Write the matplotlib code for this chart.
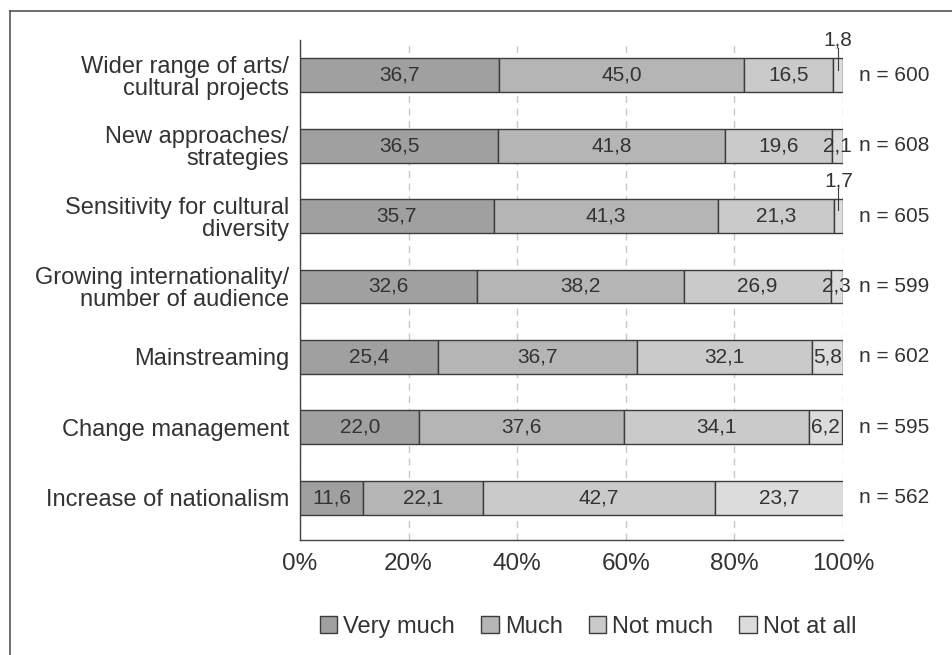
import matplotlib
matplotlib.use("Agg")
import matplotlib.pyplot as plt
from matplotlib.patches import Patch
from matplotlib.lines import Line2D

plt.rcParams['font.family'] = ['Liberation Sans', 'DejaVu Sans']

categories = ["Wider range of arts/\ncultural projects",
              "New approaches/\nstrategies",
              "Sensitivity for cultural\ndiversity",
              "Growing internationality/\nnumber of audience",
              "Mainstreaming",
              "Change management",
              "Increase of nationalism"]
very_much = [36.7, 36.5, 35.7, 32.6, 25.4, 22.0, 11.6]
much = [45.0, 41.8, 41.3, 38.2, 36.7, 37.6, 22.1]
not_much = [16.5, 19.6, 21.3, 26.9, 32.1, 34.1, 42.7]
not_at_all = [1.8, 2.1, 1.7, 2.3, 5.8, 6.2, 23.7]
n_values = [600, 608, 605, 599, 602, 595, 562]
series_names = ["Very much", "Much", "Not much", "Not at all"]
colors = ["#a0a0a0", "#b5b5b5", "#cacaca", "#dcdcdc"]
xticks = [0, 20, 40, 60, 80, 100]

fig = plt.figure(figsize=(9.52, 6.55), dpi=100)
W, H = 952, 655
ax = fig.add_axes([300 / W, 1 - 540 / H, 543 / W, 500 / H])

series = [very_much, much, not_much, not_at_all]
ypos = [len(categories) - 1 - i for i in range(len(categories))]
bh = 0.48
edge = "#3c3c3c"
txt = "#333333"

for i, y in enumerate(ypos):
    left = 0.0
    for s, vals in enumerate(series):
        v = vals[i]
        ax.barh(y, v, left=left, height=bh, color=colors[s], edgecolor=edge,
                linewidth=1.0, zorder=3)
        label = f"{v:.1f}".replace(".", ",")
        cx = left + v / 2
        if v >= 2.0:
            ax.text(cx, y, label, ha="center", va="center", fontsize=15,
                    color=txt, zorder=4)
        else:
            ax.plot([cx, cx], [y + 0.08, y + bh / 2 + 0.14], color=edge,
                    linewidth=0.8, zorder=5, clip_on=False)
            ax.text(cx, y + bh / 2 + 0.12, label, ha="center", va="bottom",
                    fontsize=15, color=txt, zorder=4, clip_on=False)
        left += v
    ax.text(103, y, f"n = {n_values[i]}", ha="left", va="center", fontsize=15,
            color=txt, clip_on=False)

ax.set_xlim(0, 100)
ax.set_ylim(-0.6, 6.5)
ax.set_yticks(ypos)
ax.set_yticklabels(categories, fontsize=17, color=txt, linespacing=1.0)
ax.set_xticks(xticks)
ax.set_xticklabels([f"{t}%" for t in xticks], fontsize=17.5, color=txt)
ax.tick_params(axis="y", length=0, pad=8)
ax.tick_params(axis="x", length=0, pad=9)
ax.xaxis.grid(True, linestyle=(0, (5, 4)), color="#c8c8c8", linewidth=1.0, zorder=0)
ax.set_axisbelow(True)
for side in ["top", "right"]:
    ax.spines[side].set_visible(False)
for side in ["left", "bottom"]:
    ax.spines[side].set_color("#444444")
    ax.spines[side].set_linewidth(1.0)

handles = [Patch(facecolor=colors[k], edgecolor=edge, linewidth=1.0) for k in range(4)]
fig.legend(handles, series_names, loc="center", bbox_to_anchor=(588 / W, 1 - 627 / H),
           ncol=4, frameon=False, fontsize=17, handlelength=0.75, handleheight=0.75,
           handletextpad=0.25, columnspacing=1.1, labelcolor=txt)

# outer frame
fig.add_artist(Line2D([10 / W, 1.0], [1 - 11 / H, 1 - 11 / H], transform=fig.transFigure,
                      color="#555555", linewidth=1.2))
fig.add_artist(Line2D([10 / W, 10 / W], [1 - 11 / H, 0.0], transform=fig.transFigure,
                      color="#555555", linewidth=1.2))

fig.savefig("out.png", dpi=100)
